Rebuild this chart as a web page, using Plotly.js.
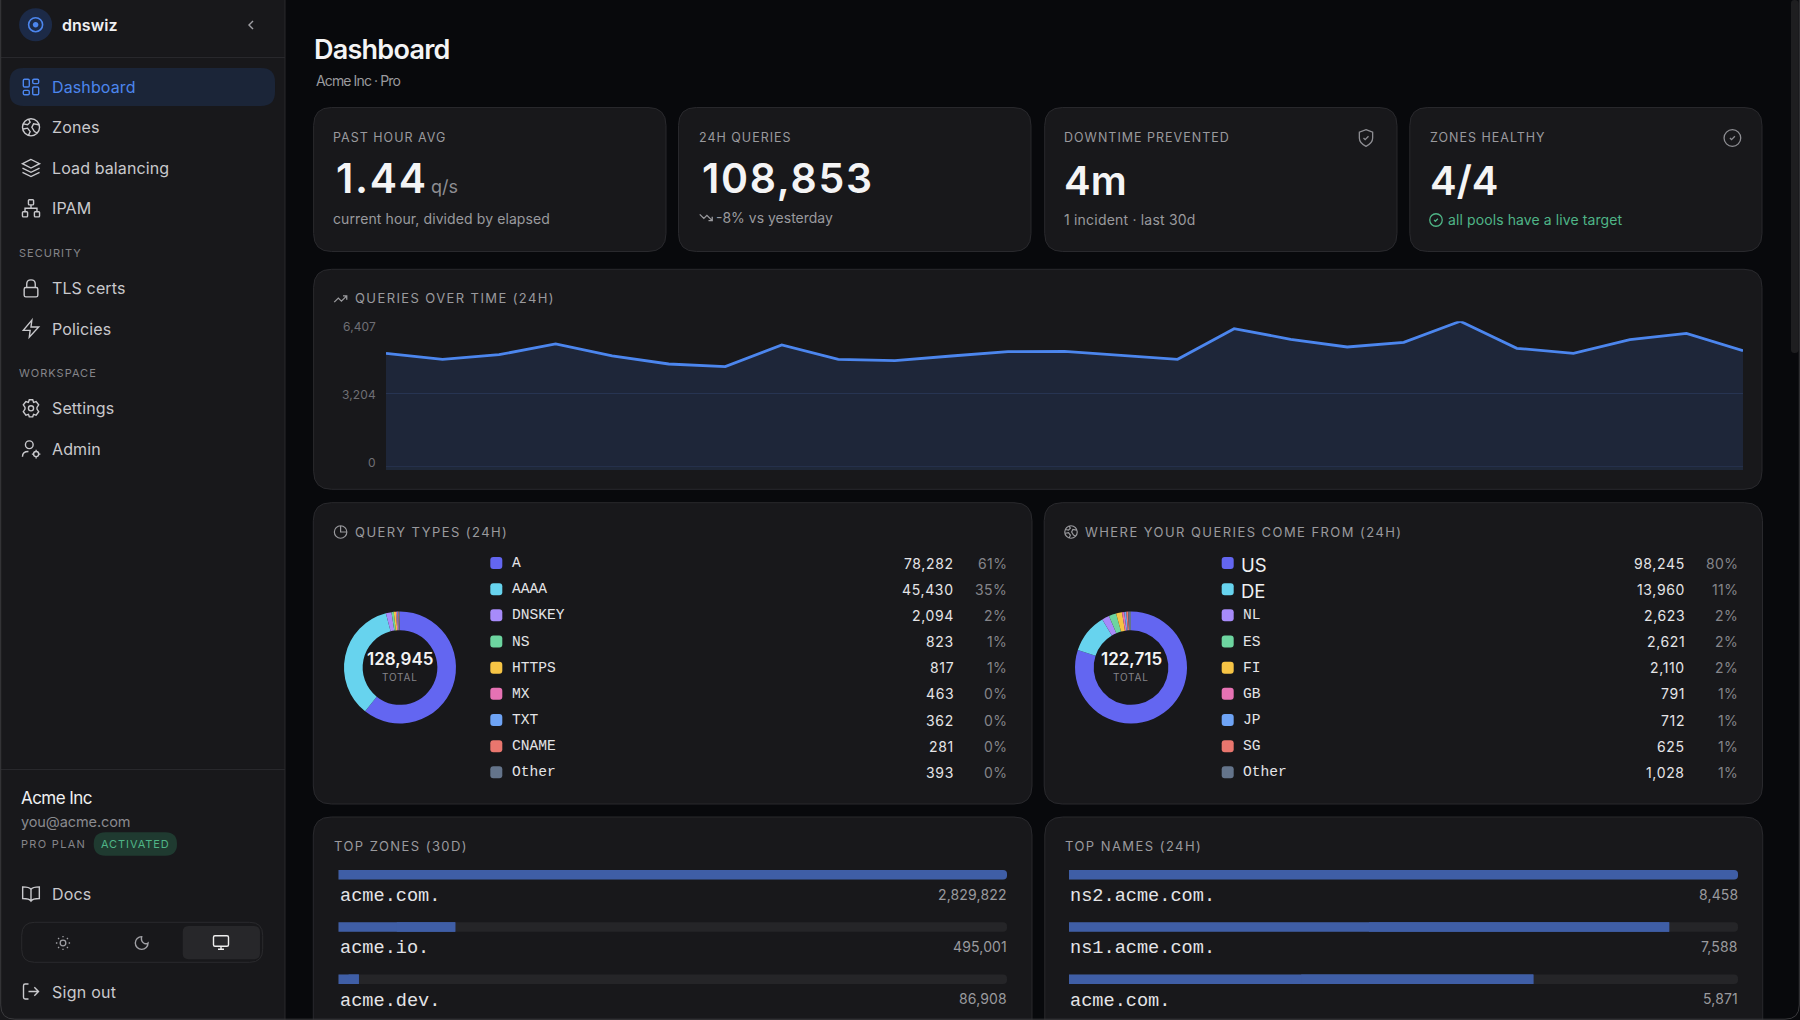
<!DOCTYPE html>
<html><head><meta charset="utf-8">
<script src="https://cdn.plot.ly/plotly-3.0.1.min.js"></script>
<style>html,body{margin:0;padding:0;background:#08090c;overflow:hidden}#c{width:1800px;height:1020px}</style>
</head><body><div id="c"></div>
<script>
const W=1800,H=1020;
// ---- data ----
const hours=[0,1,2,3,4,5,6,7,8,9,10,11,12,13,14,15,16,17,18,19,20,21,22,23,24];
const queries=[4996,4731,4937,5408,4879,4526,4408,5363,4731,4673,4878,5069,5083,4907,4731,6083,5613,5275,5481,6407,5216,4996,5598,5877,5113];
const yTicks=[0,3204,6407];
const sliceColors=['#6366f1','#67d3ee','#a78bfa','#6dd5a0','#f6c445','#e672b4','#6ea3f5','#e9766e','#64748b'];
const typeNames=['A','AAAA','DNSKEY','NS','HTTPS','MX','TXT','CNAME','Other'];
const typeCounts=[78282,45430,2094,823,817,463,362,281,393];
const geoNames=['US','DE','NL','ES','FI','GB','JP','SG','Other'];
const geoCounts=[98245,13960,2623,2621,2110,791,712,625,1028];
const zoneNames=['acme.com.','acme.io.','acme.dev.'];
const zoneCounts=[2829822,495001,86908];
const hostNames=['ns2.acme.com.','ns1.acme.com.','acme.com.'];
const hostCounts=[8458,7588,5871];

// ---- palette ----
const BG='#08090c',CARD='#18181b',BORDER='#29292d',BLUE='#4c86ee',MUTED='#9a9a9e',DIM='#85858a',TXT='#e4e4e7',NAV='#c9c9cd',GREEN='#4fb587';
const SANS='Inter, sans-serif',MONO='"Liberation Mono", monospace';

const fx=x=>x/W, fy=y=>1-y/H;
const shapes=[],annotations=[];
function conv(str,cx=0,cy=0,s=1){
  const t=str.trim().split(/[\s,]+/);let i=0,out='',px=0,py=0;
  const X=v=>fx(cx+v*s).toFixed(5),Y=v=>fy(cy+v*s).toFixed(5);
  while(i<t.length){
    const c=t[i++];
    if(c==='Z'){out+='Z';continue;}
    if(c==='H'){px=+t[i++];out+=`L${X(px)},${Y(py)}`;continue;}
    if(c==='V'){py=+t[i++];out+=`L${X(px)},${Y(py)}`;continue;}
    const n=c==='C'?3:c==='Q'?2:1;const p=[];
    for(let k=0;k<n;k++){px=+t[i++];py=+t[i++];p.push(`${X(px)},${Y(py)}`);}
    out+=c+p.join(' ');
  }
  return out;
}
function addPath(d,o={}){shapes.push({type:'path',xref:'paper',yref:'paper',layer:'below',path:d,
  fillcolor:o.fill||'rgba(0,0,0,0)',line:{color:o.line||'rgba(0,0,0,0)',width:o.line?(o.width||1):0}});}
const rrStr=(x0,y0,x1,y1,r)=>`M ${x0+r} ${y0} H ${x1-r} Q ${x1} ${y0} ${x1} ${y0+r} V ${y1-r} Q ${x1} ${y1} ${x1-r} ${y1} H ${x0+r} Q ${x0} ${y1} ${x0} ${y1-r} V ${y0+r} Q ${x0} ${y0} ${x0+r} ${y0} Z`;
function rr(x0,y0,x1,y1,r,o){addPath(conv(rrStr(x0,y0,x1,y1,r)),o);}
const cStr=(x,y,r)=>{const k=r*.5523;return `M ${x+r} ${y} C ${x+r} ${y+k} ${x+k} ${y+r} ${x} ${y+r} C ${x-k} ${y+r} ${x-r} ${y+k} ${x-r} ${y} C ${x-r} ${y-k} ${x-k} ${y-r} ${x} ${y-r} C ${x+k} ${y-r} ${x+r} ${y-k} ${x+r} ${y} Z`;};
function icon(str,cx,cy,size,color,width){const s=size/24;addPath(conv(str,cx-12*s,cy-12*s,s),{line:color,width:width||1.5});}
function T(text,x,y,o={}){
  const ls=o.ls;
  const a=o.a||'left';
  const nudge=a==='left'?-1.5:a==='right'?1.5:0;
  const inner=ls?`<span style="letter-spacing:${ls}px">${text}</span>`:text;
  annotations.push({text:inner,xref:'paper',yref:o.yref||'paper',x:fx(x+nudge),y:o.yref?o.yv:fy(y),yshift:o.yshift||0,
    xanchor:a,yanchor:'middle',showarrow:false,borderpad:0,
    font:{family:o.f||SANS,size:o.s||14,color:o.c||TXT,weight:o.w||400}});
}
const fmt=n=>n.toLocaleString('en-US');

// ---- icons (24-grid) ----
const I={
 dash:rrStr(3,3,10,12,1.5)+' '+rrStr(14,3,21,8,1.5)+' '+rrStr(14,12,21,21,1.5)+' '+rrStr(3,16,10,21,1.5),
 globe:cStr(12,12,10)+' M 3 8 L 8 9 L 11 6 L 9 2.4 M 21 9 L 15 8 L 13 12 L 16 17 L 19 18.5 M 3 14 L 8 13 L 11 17 L 9 21.5',
 layers:'M 12 2 L 2 7 L 12 12 L 22 7 Z M 2 12 L 12 17 L 22 12 M 2 17 L 12 22 L 22 17',
 net:rrStr(9,2,15,8,1)+' '+rrStr(2,16,8,22,1)+' '+rrStr(16,16,22,22,1)+' M 5 16 V 12 H 19 V 16 M 12 8 V 12',
 lock:rrStr(4,11,20,22,2)+' M 7 11 V 7 C 7 0.5 17 0.5 17 7 V 11',
 zap:'M 13 2 L 3 14 H 11 L 10 22 L 21 10 H 12 Z',
 gear:'M 10 2 H 14 L 15 5 L 18 4 L 21 8 L 19 11 V 13 L 21 16 L 18 20 L 15 19 L 14 22 H 10 L 9 19 L 6 20 L 3 16 L 5 13 V 11 L 3 8 L 6 4 L 9 5 Z '+cStr(12,12,3),
 admin:cStr(10,7,4.5)+' M 2 21 C 2 16 6 15 9 15 '+cStr(18,18,3)+' M 18 13 V 15 M 18 21 V 23 M 13 18 H 15 M 21 18 H 23',
 book:'M 12 7 C 10 4 6 4 2 4 V 18 C 6 18 10 18 12 21 C 14 18 18 18 22 18 V 4 C 18 4 14 4 12 7 Z M 12 7 V 21',
 sun:cStr(12,12,4)+' M 12 2 V 4 M 12 20 V 22 M 2 12 H 4 M 20 12 H 22 M 5 5 L 6.5 6.5 M 17.5 17.5 L 19 19 M 5 19 L 6.5 17.5 M 17.5 6.5 L 19 5',
 moon:'M 12 3 C 7 3 3 7 3 12 C 3 17 7 21 12 21 C 17 21 21 17 21 12 C 17 15 10 11 12 3 Z',
 monitor:rrStr(2,3,22,17,2)+' M 8 21 H 16 M 12 17 V 21',
 out:'M 9 21 H 5 C 4 21 3 20 3 19 V 5 C 3 4 4 3 5 3 H 9 M 16 17 L 21 12 L 16 7 M 21 12 H 9',
 up:'M 2 17 L 8.5 10.5 L 13.5 15.5 L 22 7 M 16 7 H 22 V 13',
 down:'M 2 7 L 8.5 13.5 L 13.5 8.5 L 22 17 M 16 17 H 22 V 11',
 pie:cStr(12,12,10)+' M 12 2 V 12 H 22',
 shield:'M 12 2 L 20 5 V 12 C 20 17 16 20 12 22 C 8 20 4 17 4 12 V 5 Z M 9 12 L 11 14 L 15 10',
 check:cStr(12,12,10)+' M 9 12 L 11 14 L 15 10',
 chev:'M 15 18 L 9 12 L 15 6'
};

// ---- sidebar ----
addPath(conv('M 0 0 H 285 V 1020 H 0 Z'),{fill:CARD});
addPath(conv('M 285 0 V 1020'),{line:BORDER,width:1});
addPath(conv('M 1 57.5 H 285'),{line:BORDER,width:1});
addPath(conv('M 1 769.5 H 285'),{line:BORDER,width:1});
addPath(conv(cStr(35.6,24.7,16.5)),{fill:'#1c2a47'});
addPath(conv(cStr(35.6,24.7,7)),{line:BLUE,width:1.6});
addPath(conv(cStr(35.6,24.7,2.8)),{fill:BLUE});
T('dnswiz',62.4,24.5,{s:16,w:600,c:'#f0f0f2',ls:.05});
icon(I.chev,251,25,16,'#a0a0a5',1.4);
rr(9.6,68,275,106,14,{fill:'#1b2538'});
const navItems=[['Dashboard',87,I.dash,BLUE],['Zones',127.3,I.globe,NAV],['Load balancing',168,I.layers,NAV],['IPAM',208.3,I.net,NAV],
 ['TLS certs',288.3,I.lock,NAV],['Policies',328.7,I.zap,NAV],['Settings',408.3,I.gear,NAV],['Admin',449,I.admin,NAV]];
navItems.forEach(n=>{T(n[0],52.5,n[1],{s:16,c:n[3],ls:.12});icon(n[2],31,n[1],20.5,n[3],1.4);});
T('SECURITY',19.3,253,{s:11,c:DIM,ls:1});
T('WORKSPACE',19.3,373,{s:11,c:DIM,ls:1});
T('Acme Inc',21.2,797.5,{s:17,c:'#f0f0f2',ls:-.55});
T('you@acme.com',21.2,821.5,{s:14.5,c:'#8a8a8f',ls:-.1});
T('PRO PLAN',21.2,844.3,{s:11,c:DIM,ls:1.3});
rr(93.7,832.3,177,855.7,11.7,{fill:'#1f3a30'});
T('ACTIVATED',135.3,844.3,{s:11,c:GREEN,a:'center',ls:.9});
T('Docs',52.8,894.3,{s:16,c:NAV,ls:.12});icon(I.book,31,893.5,20,NAV,1.4);
rr(21.7,922.3,262.7,962.3,13,{line:'#2a2a2d',width:1});
rr(182.7,926,260,959.3,6,{fill:'#27272a'});
icon(I.sun,63,943,17,'#a0a0a5',1.3);icon(I.moon,141.7,943,17,'#a0a0a5',1.4);icon(I.monitor,221,942.5,18,'#eeeeee',1.4);
T('Sign out',52.8,991.7,{s:16,c:NAV,ls:.25});icon(I.out,31,991.5,20,NAV,1.4);

// ---- header ----
T('Dashboard',314.5,49.5,{s:27,w:600,c:'#f4f4f5',ls:-.75});
T('Acme Inc · Pro',316.5,81,{s:14,c:MUTED,ls:-.88});

// ---- stat cards ----
const card=(x0,y0,x1,y1)=>rr(x0,y0,x1,y1,18,{fill:CARD,line:BORDER,width:1});
[[313.6,666],[678.5,1031],[1044.7,1397],[1409.8,1762]].forEach(c=>card(c[0],107.5,c[1],251.5));
const LBL={s:12.5,c:MUTED,ls:1};
const BIG={s:41,w:600,c:'#f4f4f5',ls:1.7};
const BIG2={s:40,w:600,c:'#f4f4f5'};
T('PAST HOUR AVG',333.7,137.5,LBL);
T('1.44',336,177.7,BIG);
T('q/s',431.5,186.5,{s:18,c:'#8e8e93'});
T('current hour, divided by elapsed',333.7,218.7,{s:14,c:MUTED,ls:.1});
T('24H QUERIES',699,137.5,LBL);
T('108,853',702.5,177.7,BIG);
icon(I.down,706,217.5,15,MUTED,1.3);
T('-8% vs yesterday',716.5,217.5,{s:14,c:MUTED});
T('DOWNTIME PREVENTED',1064.2,138,LBL);
icon(I.shield,1366,138,20,'#8e8e93',1.3);
T('4m',1064.2,180.5,BIG2);
T('1 incident · last 30d',1064.2,219.7,{s:14,c:MUTED,ls:.2});
T('ZONES HEALTHY',1430,138,LBL);
icon(I.check,1732.4,138,20,'#8e8e93',1.3);
T('4/4',1430,180.5,BIG2);
icon(I.check,1436,220,15,GREEN,1.3);
T('all pools have a live target',1448.8,219.7,{s:14,c:GREEN,ls:.1});

// ---- chart card ----
card(313.6,269.3,1762,489.3);
icon(I.up,340.5,299,15,MUTED,1.3);
T('QUERIES OVER TIME (24H)',355.3,298.2,{s:13,c:MUTED,ls:1.4});
yTicks.forEach((v,i)=>T(fmt(v),375,0,{s:12,c:'#6f6f75',a:'right',yref:'y',yv:v,yshift:[4.4,-1,-5.4][i],ls:.1}));

// ---- donut cards ----
const LEFT={x0:313.3,x1:1032,title:'QUERY TYPES (24H)',tx:355.3,ix:340.6,ico:I.pie,cx:400,sw:490.3,nx:512,vx:954.2,px:1006.6};
const RIGHT={x0:1044.2,x1:1762.5,title:'WHERE YOUR QUERIES COME FROM (24H)',tx:1085.8,ix:1071,ico:I.globe,cx:1131,sw:1221.7,nx:1243,vx:1685,px:1737.5};
const rowY=i=>563+i*26.17, DY=667.5;
function donutCard(P,names,counts){
  card(P.x0,502.7,P.x1,804);
  icon(P.ico,P.ix,532,15,MUTED,1.2);
  T(P.title,P.tx,532,{s:13,c:MUTED,ls:1.44});
  const total=counts.reduce((a,b)=>a+b,0);
  names.forEach((n,i)=>{
    const y=rowY(i);
    rr(P.sw,y-6,P.sw+12,y+6,3,{fill:sliceColors[i]});
    if(n==='US'||n==='DE') T(n,P.nx-1.5,y+(n==='US'?1.5:2),{s:18.5,c:'#f0f0f2'});
    else T(n,P.nx,y,{s:14.6,f:MONO,c:TXT});
    T(fmt(counts[i]),P.vx-.5,y,{s:14,c:TXT,a:'right',ls:.65});
    T(Math.round(counts[i]/total*100)+'%',P.px,y,{s:14,c:DIM,a:'right',ls:.4});
  });
  T(fmt(total),P.cx,DY-8.5,{s:17,w:600,c:'#f4f4f5',a:'center'});
  T('TOTAL',P.cx,DY+9.2,{s:10,c:DIM,a:'center',ls:.8});
}
donutCard(LEFT,typeNames,typeCounts);
donutCard(RIGHT,geoNames,geoCounts);
const pie=(P,names,counts)=>({type:'pie',labels:names,values:counts,hole:.667,sort:false,direction:'clockwise',rotation:0,
  textinfo:'none',hoverinfo:'label+value',showlegend:false,marker:{colors:sliceColors,line:{width:0}},
  domain:{x:[fx(P.cx-56),fx(P.cx+56)],y:[fy(DY+56),fy(DY-56)]}});

// ---- bar cards ----
function barCard(x0,x1,title,tx,lx,names,counts,vx){
  addPath(conv(`M ${x0} 1040 V ${817+18} Q ${x0} 817 ${x0+18} 817 H ${x1-18} Q ${x1} 817 ${x1} ${817+18} V 1040 Z`),{fill:CARD,line:BORDER,width:1});
  T(title,tx,846,{s:13,c:MUTED,ls:1.45});
  names.forEach((n,i)=>{
    T(n,lx,896.5+i*52.3,{s:18.6,f:MONO,c:TXT});
    T(fmt(counts[i]),vx-1,894+i*52.3,{s:14,c:MUTED,a:'right',ls:.15});
  });
}
barCard(313.3,1032,'TOP ZONES (30D)',334,340,zoneNames,zoneCounts,1007);
barCard(1044.8,1762.7,'TOP NAMES (24H)',1065.2,1070.6,hostNames,hostCounts,1738);
function barTraces(names,counts,xa,ya){
  const max=Math.max(...counts);
  const base={type:'bar',orientation:'h',y:names,xaxis:xa,yaxis:ya,hoverinfo:'skip',showlegend:false};
  return [
    {...base,x:names.map(()=>max),marker:{color:'#252528',cornerradius:5}},
    {...base,x:counts,marker:{color:'#3f5ea6',cornerradius:5}},
    // flat right edge for partial bars (the fill is clipped by its track)
    {...base,base:counts.map(v=>v/2),x:counts.map(v=>v===max?null:v/2),marker:{color:'#3f5ea6'}}
  ];
}

// ---- window chrome ----
rr(1791,0,1798.5,353,3.5,{fill:'#1e1e20'});
addPath(conv('M 0.7 0 V 1005 Q 0.7 1019.2 15 1019.2 H 1785 Q 1799.3 1019.2 1799.3 1005 V 0'),{line:'#3a3a3d',width:1});

// ---- traces ----
const traces=[
 {type:'scatter',mode:'lines',x:hours,y:queries,xaxis:'x',yaxis:'y',fill:'tozeroy',fillcolor:'rgba(70,125,240,0.14)',
  line:{color:BLUE,width:2.8,shape:'linear'},cliponaxis:false,hoverinfo:'x+y',showlegend:false},
 pie(LEFT,typeNames,typeCounts),
 pie(RIGHT,geoNames,geoCounts),
 ...barTraces(zoneNames,zoneCounts,'x2','y2'),
 ...barTraces(hostNames,hostCounts,'x3','y3')
];
// strip under the zero line, same tint as the area
shapes.push({type:'rect',xref:'x',yref:'y',x0:hours[0],x1:hours[hours.length-1],y0:-150,y1:0,layer:'below',fillcolor:'#1f2839',line:{width:0}});

const hidden={showgrid:false,zeroline:false,showticklabels:false,ticks:'',showline:false,fixedrange:true};
const barAxisY=(an)=>({...hidden,anchor:an,domain:[fy(1005.45),fy(848.55)],autorange:'reversed',type:'category'});
const layout={
 width:W,height:H,margin:{l:0,r:0,t:0,b:0,pad:0},paper_bgcolor:BG,plot_bgcolor:'rgba(0,0,0,0)',showlegend:false,
 font:{family:SANS},barmode:'overlay',bargap:0.816,dragmode:false,
 xaxis:{...hidden,domain:[fx(386),fx(1743)],range:[hours[0],hours[hours.length-1]],anchor:'y'},
 yaxis:{...hidden,domain:[fy(470),fy(321.3)],range:[-145,6407],anchor:'x',showgrid:true,gridcolor:'#222838',gridwidth:1,tickvals:yTicks,tickmode:'array'},
 xaxis2:{...hidden,domain:[fx(338.3),fx(1007)],range:[0,Math.max(...zoneCounts)],anchor:'y2'},
 yaxis2:barAxisY('x2'),
 xaxis3:{...hidden,domain:[fx(1069),fx(1738)],range:[0,Math.max(...hostCounts)],anchor:'y3'},
 yaxis3:barAxisY('x3'),
 shapes,annotations
};
Plotly.newPlot('c',traces,layout,{displayModeBar:false,staticPlot:true});
</script></body></html>
